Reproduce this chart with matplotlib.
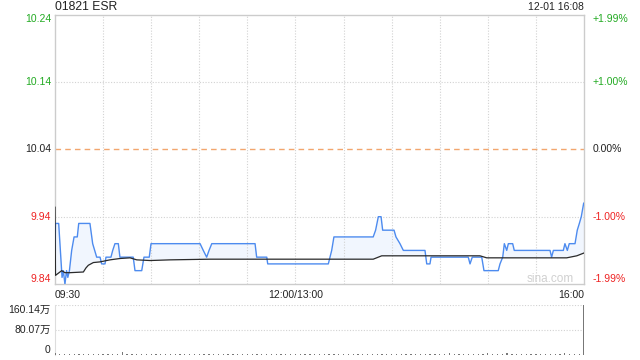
import numpy as np
import matplotlib
matplotlib.use("Agg")
import matplotlib.pyplot as plt

plt.rcParams['font.family'] = ['Liberation Sans', 'Noto Sans CJK SC']

title = "01821 ESR"
stamp = "12-01 16:08"
prev_close = 10.04

# minutes after 09:30 (lunch break removed, 330 = 16:00) and price
price_t = [0, 0.3, 2.3, 4.4, 5.2, 6.2, 7.2, 8.0, 9.0, 10.4, 11.9, 13.9, 14.8, 21.8,
           23.5, 26.0, 28.1, 29.1, 31.2, 31.8, 34.9, 36.0, 37.4, 39.5, 40.5, 48.8,
           49.9, 54.1, 55.5, 58.8, 59.9, 90.5, 92.5, 94.6, 96.1, 97.8, 124.8, 125.8,
           132.1, 132.7, 170.5, 172.6, 174.0, 198.5, 200.0, 201.7, 203.4, 204.4,
           211.5, 212.7, 215.2, 217.3, 230.8, 231.9, 233.9, 234.6, 257.8, 258.9,
           260.3, 266.2, 267.6, 276.5, 277.6, 279.3, 280.3, 281.8, 282.8, 285.5,
           286.5, 308.8, 309.8, 310.9, 317.1, 318.1, 319.6, 320.8, 324.4, 325.8,
           327.1, 328.3, 329.8]
price = [9.89, 9.93, 9.93, 9.85, 9.86, 9.84, 9.86, 9.85, 9.86, 9.89, 9.91, 9.91, 9.93, 9.93,
         9.90, 9.88, 9.88, 9.87, 9.87, 9.88, 9.88, 9.89, 9.90, 9.90, 9.88, 9.88,
         9.86, 9.86, 9.88, 9.88, 9.90, 9.90, 9.89, 9.88, 9.89, 9.90, 9.90, 9.88,
         9.88, 9.87, 9.87, 9.89, 9.91, 9.91, 9.92, 9.94, 9.94, 9.92,
         9.92, 9.91, 9.90, 9.89, 9.89, 9.87, 9.87, 9.88, 9.88, 9.87,
         9.88, 9.88, 9.86, 9.86, 9.87, 9.88, 9.90, 9.89, 9.90, 9.90,
         9.89, 9.89, 9.88, 9.89, 9.89, 9.90, 9.89, 9.90, 9.90, 9.92,
         9.93, 9.94, 9.96]

# average price line
avg_t = [0, 0.3, 4.2, 6.2, 9.4, 17.7, 19.3, 20.8, 23.9, 28.1, 34.3, 40.5, 46.8, 51.0,
         59.3, 71.7, 96.7, 165.3, 198.5, 203.8, 265.1, 269.3, 319.2, 325.5, 329.8]
avg = [9.954, 9.853, 9.860, 9.857, 9.857, 9.858, 9.864, 9.868, 9.872, 9.873, 9.876,
       9.878, 9.879, 9.876, 9.875, 9.876, 9.877, 9.877, 9.877, 9.882, 9.882, 9.879,
       9.879, 9.882, 9.886]

# volume (万), one bar every 3 minutes, plus closing auction at 16:00
vol = [6, 2, 3, 2, 3, 4, 3, 2, 3, 2,
       3, 3, 3, 2, 9, 2, 3, 3, 2, 3,
       2, 2, 3, 2, 3, 2, 3, 2, 2, 3,
       2, 3, 2, 2, 3, 2, 3, 2, 2, 2,
       3, 2, 2, 3, 2, 3, 2, 2, 3, 2,
       2, 3, 2, 2, 3, 2, 2, 3, 2, 3,
       2, 3, 2, 2, 3, 2, 2, 3, 2, 2,
       3, 2, 3, 2, 2, 3, 2, 2, 3, 2,
       2, 2, 6, 2, 3, 2, 2, 3, 2, 3,
       5, 2, 3, 2, 5, 2, 3, 2, 2, 3,
       2, 2, 3, 2, 3, 2, 6, 2, 3, 4]
close_vol = 160.14
vol_max = 160.14

left_labels = ["10.24", "10.14", "10.04", "9.94", "9.84"]
right_labels = ["+1.99%", "+1.00%", "0.00%", "-1.00%", "-1.99%"]
pct = [0.0199, 0.01, 0.0, -0.01, -0.0199]
label_colors = ["#22aa22", "#22aa22", "#222222", "#ee2222", "#ee2222"]
x_labels = ["09:30", "12:00/13:00", "16:00"]

fig = plt.figure(figsize=(6.4, 3.6), dpi=100)
ax = fig.add_axes([55/640, 1-284/360, 529/640, 269.5/360])
axv = fig.add_axes([55/640, 1-355/360, 529/640, 50/360])

tick_vals = [prev_close * (1 + p) for p in pct]
ax.set_xlim(0, 330)
ax.set_ylim(tick_vals[-1], tick_vals[0])

ax.fill_between(price_t, price, tick_vals[-1], color="#f1f6fe", lw=0, zorder=1)
ax.fill_between(avg_t, avg, tick_vals[-1], color="white", lw=0, zorder=1.1)
ax.plot(price_t, price, color="#4d8bef", lw=1, zorder=3)
ax.plot(avg_t, avg, color="#2a2a2a", lw=0.9, zorder=3)
ax.axhline(prev_close, color="#f2a66e", lw=1, ls=(0, (4, 3)), zorder=2)

for m in range(30, 330, 30):
    ax.axvline(m, color="#d2d2d2", lw=0.8, ls=(0, (1, 1.5)), zorder=1.5)
for v in (tick_vals[1], tick_vals[3]):
    ax.axhline(v, color="#d2d2d2", lw=0.8, ls=(0, (1, 1.5)), zorder=1.5)

for s in ax.spines.values():
    s.set_color("#cccccc")
    s.set_linewidth(1)

ax.set_yticks(tick_vals)
ax.set_yticklabels(left_labels, fontsize=7.5)
ax.tick_params(axis="y", length=0, pad=3)
for lab, c, va in zip(ax.get_yticklabels(), label_colors,
                      ["top", "center", "center", "center", "bottom"]):
    lab.set_color(c)
    lab.set_va(va)

ax2 = ax.twinx()
ax2.set_ylim(ax.get_ylim())
ax2.set_yticks(tick_vals)
ax2.set_yticklabels(right_labels, fontsize=7.5)
ax2.tick_params(axis="y", length=0, pad=6)
for lab, c, va in zip(ax2.get_yticklabels(), label_colors,
                      ["top", "center", "center", "center", "bottom"]):
    lab.set_color(c)
    lab.set_va(va)
for s in ax2.spines.values():
    s.set_visible(False)

ax.set_xticks([0, 150, 330])
ax.set_xticklabels(x_labels, fontsize=7.5, color="#222222")
ax.tick_params(axis="x", length=0, pad=4)
xl = ax.get_xticklabels()
xl[0].set_ha("left")
xl[2].set_ha("right")

fig.text(55/640, 1-7/360, title, fontsize=8.7, color="#222222", ha="left", va="center")
fig.text(584/640, 1-7/360, stamp, fontsize=7.5, color="#222222", ha="right", va="center")
fig.text(574/640, 1-279/360, "sina.com", fontsize=8.5, color="#d0d0d0", ha="right", va="center")

# volume panel
vt = np.arange(len(vol)) * 3
axv.bar(vt, vol, width=0.8, color="#777777", zorder=3)
axv.bar([330], [close_vol], width=0.9, color="#777777", zorder=3)
axv.set_xlim(0, 330)
axv.set_ylim(0, vol_max)
axv.axhline(vol_max, color="#d2d2d2", lw=0.8, ls=(0, (1, 1.5)), zorder=1)
axv.axhline(vol_max / 2, color="#d2d2d2", lw=0.8, ls=(0, (1, 1.5)), zorder=1)
for k in ("top", "bottom", "right"):
    axv.spines[k].set_visible(False)
axv.spines["left"].set_color("#dddddd")
axv.set_xticks([])
axv.set_yticks([vol_max, vol_max / 2, 0])
axv.set_yticklabels(["160.14万", "80.07万", "0"], fontsize=7.5, color="#222222")
axv.tick_params(axis="y", length=0, pad=3)
for lab, va in zip(axv.get_yticklabels(), ["top", "center", "bottom"]):
    lab.set_va(va)

fig.savefig("out.png", dpi=100)
